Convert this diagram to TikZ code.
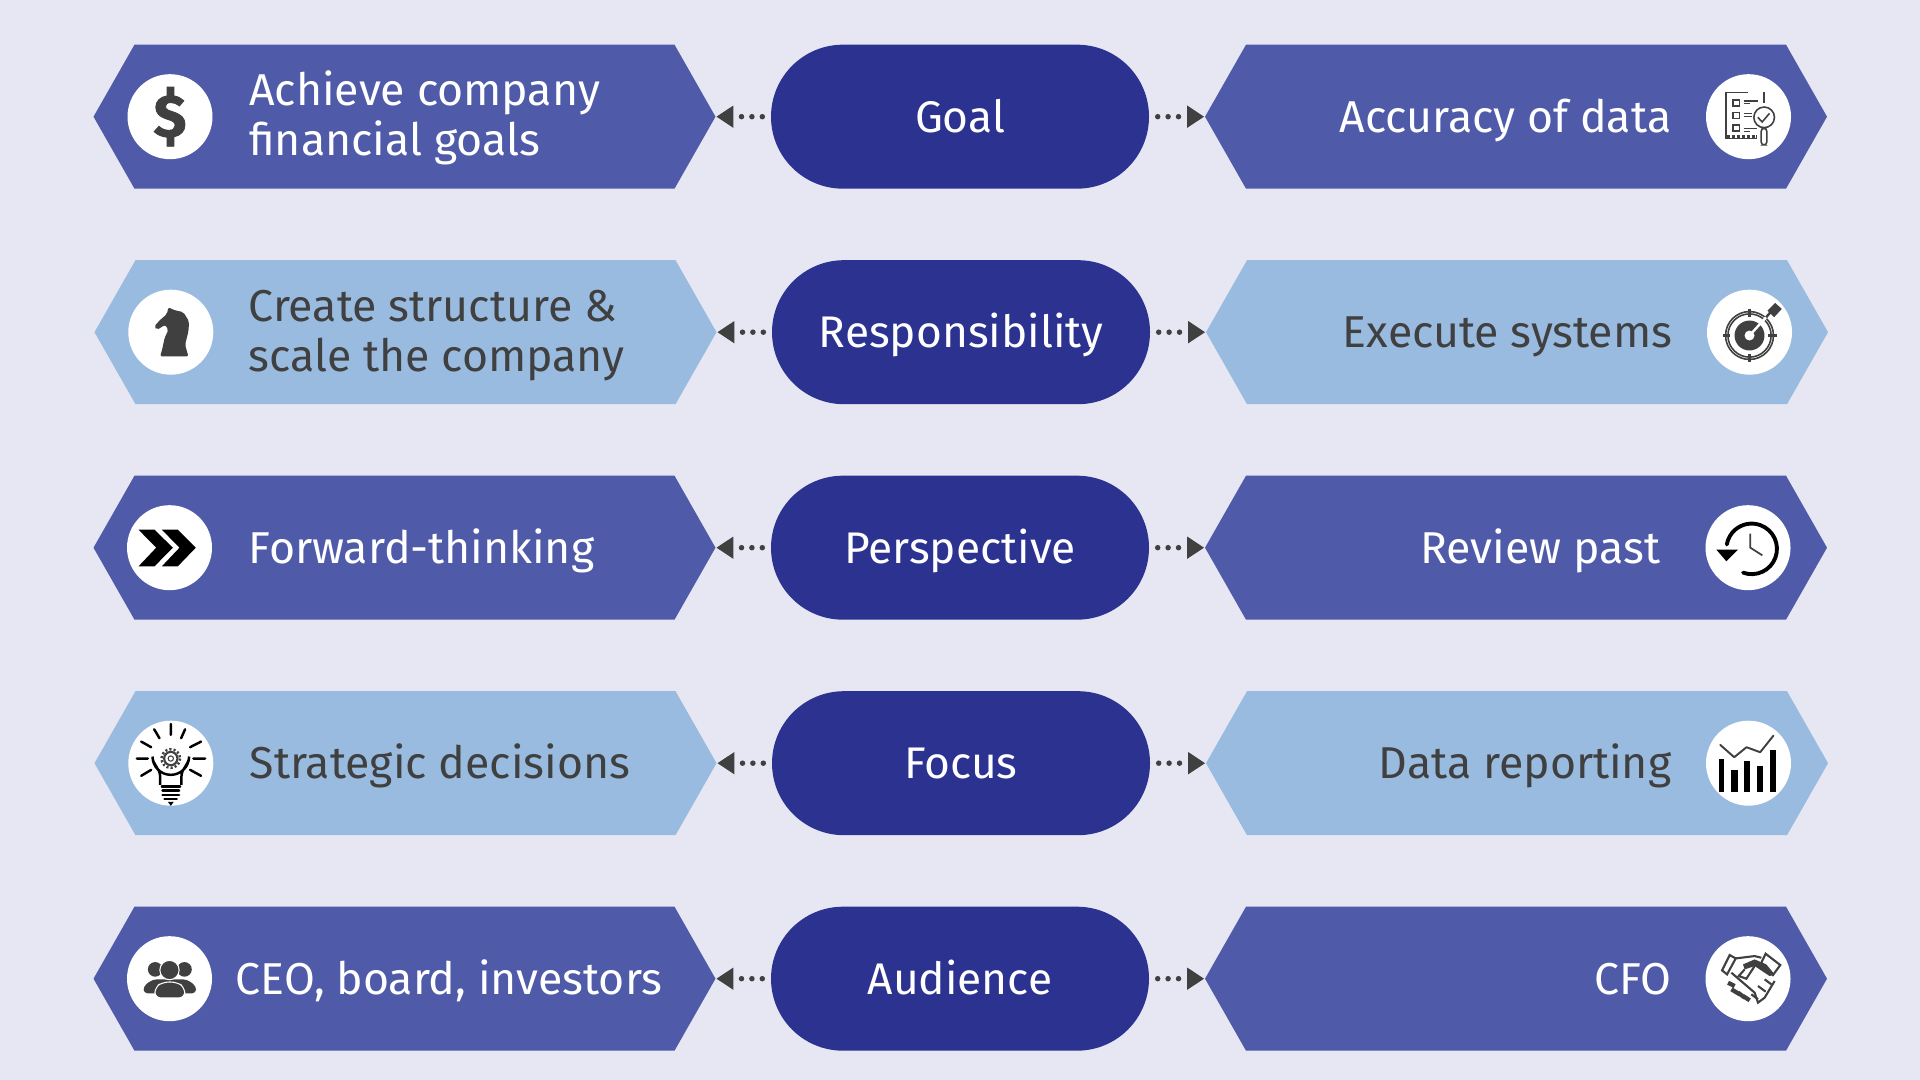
\documentclass[tikz,border=0pt]{standalone}
\usepackage{xcolor}
\usepackage{fontspec}
\setmainfont{Fira Sans}
\usetikzlibrary{shapes,arrows.meta}

\definecolor{bgcol}{HTML}{E6E7F2}
\definecolor{hexdarkcol}{HTML}{4F5BA9}
\definecolor{hexlightcol}{HTML}{99BBE0}
\definecolor{pillcol}{HTML}{2C3290}
\definecolor{inkcol}{HTML}{404040}

\tikzset{
    hexbase/.style={signal, signal to=west and east, signal pointer angle=120.7, draw=none, inner sep=0pt, minimum width=6.22cm, minimum height=1.44cm},
    hexdark/.style={hexbase, fill=hexdarkcol},
    hexlight/.style={hexbase, fill=hexlightcol},
    pill/.style={rectangle, rounded corners=0.72cm, fill=pillcol, text=white, inner sep=0pt, minimum width=3.78cm, minimum height=1.44cm, text height=0.31cm, text depth=0pt, font=\fontsize{12.6}{14}\selectfont},
    iconcirc/.style={circle, fill=white, inner sep=0pt, minimum size=0.85cm},
    txtwhite/.style={text=white, inner sep=0pt, align=left, font=\fontsize{12.7}{14.2}\selectfont},
    txtdark/.style={text=inkcol, inner sep=0pt, align=left, font=\fontsize{12.7}{14.2}\selectfont},
    oneline/.style={text height=0.31cm, text depth=0pt},
    linkarrow/.style={draw=inkcol, line width=0.055cm, line cap=round, dash pattern=on 0pt off 0.104cm, shorten <=0.08cm, -{Triangle[length=0.17cm,width=0.21cm]}},
    iconscope/.style={shift={(#1)}, scale=0.00333, yscale=-1},
    iconline/.style={draw=inkcol, line width=0.45pt, fill=none},
    iconthick/.style={draw=black, line width=0.7pt, line cap=round, fill=none}
}

\begin{document}
\begin{tikzpicture}
    \fill[bgcol] (0,0) rectangle (19.2,10.8);
    \useasboundingbox (0,0) rectangle (19.2,10.8);

    % Goal
    \node[pill] (goal) at (9.6,9.633) {Goal};
    \node[hexdark] (goalL) at (4.045,9.633) {};
    \node[hexdark] (goalR) at (15.16,9.633) {};
    \draw[linkarrow] (goal.west) -- (goalL.east);
    \draw[linkarrow] (goal.east) -- (goalR.west);
    \node[iconcirc] (dollarcirc) at (1.70,9.633) {};
    \node[iconcirc] (checkcirc) at (17.485,9.633) {};
    \node[txtwhite, anchor=west] (goalLtext) at (2.486,9.62) {Achieve company\\financial goals};
    \node[txtwhite, oneline, anchor=east] (goalRtext) at (16.72,9.633) {Accuracy of data};

    % Responsibility
    \node[pill] (resp) at (9.61,7.478) {Responsibility};
    \node[hexlight] (respL) at (4.055,7.478) {};
    \node[hexlight] (respR) at (15.17,7.478) {};
    \draw[linkarrow] (resp.west) -- (respL.east);
    \draw[linkarrow] (resp.east) -- (respR.west);
    \node[iconcirc] (knightcirc) at (1.708,7.478) {};
    \node[iconcirc] (targetcirc) at (17.495,7.478) {};
    \node[txtdark, anchor=west] (respLtext) at (2.48,7.44) {Create structure \&\\scale the company};
    \node[txtdark, oneline, anchor=east] (respRtext) at (16.73,7.478) {Execute systems};

    % Perspective
    \node[pill] (persp) at (9.6,5.323) {Perspective};
    \node[hexdark] (perspL) at (4.045,5.323) {};
    \node[hexdark] (perspR) at (15.16,5.323) {};
    \draw[linkarrow] (persp.west) -- (perspL.east);
    \draw[linkarrow] (persp.east) -- (perspR.west);
    \node[iconcirc] (fwdcirc) at (1.695,5.323) {};
    \node[iconcirc] (clockcirc) at (17.48,5.323) {};
    \node[txtwhite, oneline, anchor=west] (perspLtext) at (2.48,5.323) {Forward-thinking};
    \node[txtwhite, oneline, anchor=east] (perspRtext) at (16.61,5.323) {Review past};

    % Focus
    \node[pill] (focus) at (9.61,3.168) {Focus};
    \node[hexlight] (focusL) at (4.055,3.168) {};
    \node[hexlight] (focusR) at (15.17,3.168) {};
    \draw[linkarrow] (focus.west) -- (focusL.east);
    \draw[linkarrow] (focus.east) -- (focusR.west);
    \node[iconcirc] (bulbcirc) at (1.708,3.168) {};
    \node[iconcirc] (chartcirc) at (17.485,3.168) {};
    \node[txtdark, oneline, anchor=west] (focusLtext) at (2.49,3.168) {Strategic decisions};
    \node[txtdark, oneline, anchor=east] (focusRtext) at (16.72,3.168) {Data reporting};

    % Audience
    \node[pill] (aud) at (9.6,1.013) {Audience};
    \node[hexdark] (audL) at (4.045,1.013) {};
    \node[hexdark] (audR) at (15.16,1.013) {};
    \draw[linkarrow] (aud.west) -- (audL.east);
    \draw[linkarrow] (aud.east) -- (audR.west);
    \node[iconcirc] (groupcirc) at (1.695,1.013) {};
    \node[iconcirc] (shakecirc) at (17.48,1.013) {};
    \node[txtwhite, oneline, anchor=west] (audLtext) at (2.35,1.013) {CEO, board, investors};
    \node[txtwhite, oneline, anchor=east] (audRtext) at (16.72,1.013) {CFO};

    % icons, in pixels of the 3x crop around the circle centre
    \node[text=inkcol, inner sep=0pt, font=\fontsize{17}{17}\selectfont\bfseries\addfontfeature{FakeBold=1.5}] (dollar) at (dollarcirc) {\$};

    \begin{scope}[iconscope=checkcirc]
        \draw[iconline] (-2,-73) -- (-67,-73) -- (-67,65) -- (25,65);
        \draw[iconline] (47,-73) -- (47,-40);
        \draw[iconline, line width=0.9pt, dash pattern=on 1pt off 0.4pt] (-65,60) -- (25,60);
        \draw[iconline] (-47,-50) rectangle (-27,-32);
        \draw[iconline] (-47,-12) rectangle (-27,6);
        \draw[iconline] (-47,25) rectangle (-27,43);
        \draw[iconline] (-15,-48) -- (28,-48) (-15,-40) -- (5,-40);
        \draw[iconline] (-15,-10) -- (10,-10) (-15,0) -- (10,0);
        \draw[iconline] (-15,35) -- (25,35) (-15,45) -- (3,45);
        \draw[iconline, fill=white] (47,2) circle (31);
        \draw[iconline] (28,2) -- (41,16) -- (63,-10);
        \draw[iconline, fill=white, rounded corners=0.03cm] (38,35) rectangle (55,85);
    \end{scope}

    \begin{scope}[iconscope=targetcirc]
        \draw[iconline] (0,10) circle (65);
        \draw[iconline] (0,10) circle (72);
        \fill[inkcol] (0,10) circle (45);
        \fill[white] (0,10) circle (15);
        \draw[iconline, line width=0.6pt] (0,-70) -- (0,-45) (0,65) -- (0,90) (-80,10) -- (-58,10) (57,10) -- (84,10);
        \draw[white, line width=0.7pt] (0,10) -- (50,-45);
        \draw[inkcol, line width=0.7pt] (50,-45) -- (72,-70);
        \fill[inkcol] (54,-65) -- (77,-88) -- (97,-70) -- (74,-45) -- cycle;
    \end{scope}

    \begin{scope}[iconscope=knightcirc]
        \fill[inkcol, rounded corners=0.02cm] (-32,73) -- (53,73) -- (43,38) -- (53,-2) -- (55,-32) -- (38,-60) -- (8,-67) -- (-7,-75) -- (-12,-54) -- (-32,-37) -- (-50,-17) -- (-42,-7) -- (-17,-22) -- (-7,-7) -- (-19,18) -- (-25,48) -- cycle;
    \end{scope}

    \begin{scope}[iconscope=fwdcirc]
        \fill[black] (-93,-54) -- (-45,-54) -- (10,0) -- (-45,56) -- (-93,56) -- (-40,0) -- cycle;
        \fill[black] (-23,-54) -- (25,-54) -- (79,0) -- (25,56) -- (-23,56) -- (30,0) -- cycle;
    \end{scope}

    \begin{scope}[iconscope=clockcirc]
        \draw[black, line width=1.1pt, line cap=round] (-15,75) arc[start angle=110, end angle=-170, radius=76];
        \fill[black] (-95,6) -- (-30,6) -- (-65,41) -- cycle;
        \draw[inkcol, line width=0.5pt] (7,-42) -- (7,0) -- (43,23);
    \end{scope}

    \begin{scope}[iconscope=bulbcirc]
        \draw[iconthick] (0,-118) -- (0,-85) (-50,-102) -- (-34,-75) (43,-102) -- (31,-75) (-89,-65) -- (-59,-48) (91,-65) -- (58,-48);
        \draw[iconthick] (-102,-14) -- (-69,-14) (103,-14) -- (68,-14) (-89,38) -- (-59,20) (91,38) -- (58,20);
        \draw[iconthick, line cap=butt] (-32,65) -- (-32,40) .. controls (-32,15) and (-55,5) .. (-55,-20) arc[start angle=180, end angle=0, radius=55] .. controls (55,5) and (32,15) .. (32,40) -- (32,65);
        \draw[iconthick] (-27,70) -- (28,70) (-25,82) -- (25,82) (-25,95) -- (25,95) (-19,108) -- (18,108);
        \fill[black] (-9,116) -- (9,116) -- (0,128) -- cycle;
        \draw[inkcol, line width=0.6pt] (0,-14) circle (20);
        \draw[inkcol, line width=0.7pt, dash pattern=on 0.6pt off 0.6pt] (0,-14) circle (28);
        \draw[inkcol, line width=0.3pt] (0,-14) circle (8);
    \end{scope}

    \begin{scope}[iconscope=chartcirc]
        \fill[black] (-90,-13) rectangle (-73,87);
        \fill[black] (-53,20) rectangle (-33,87);
        \fill[black] (-15,-8) rectangle (5,87);
        \fill[black] (24,7) rectangle (44,87);
        \fill[black] (65,-40) rectangle (84,87);
        \draw[inkcol, line width=0.55pt, line cap=round, line join=round] (-85,-55) -- (-43,-18) -- (-6,-48) -- (35,-33) -- (75,-83);
    \end{scope}

    \begin{scope}[iconscope=groupcirc]
        \fill[inkcol] (-43,-28) circle (22);
        \fill[inkcol] (45,-28) circle (22);
        \fill[inkcol, rounded corners=0.04cm] (-78,44) -- (-78,22) -- (-50,2) -- (52,2) -- (80,22) -- (80,44) -- cycle;
        \draw[white, line width=0.3pt, fill=inkcol] (0,-26) circle (29);
        \draw[white, line width=0.3pt, fill=inkcol, rounded corners=0.06cm] (-44,58) -- (-44,26) -- (-20,10) -- (22,10) -- (46,26) -- (46,58) -- cycle;
    \end{scope}

    \begin{scope}[iconscope=shakecirc]
        \draw[iconline, line width=0.6pt] (-55,-71) -- (-37,-61) -- (-63,-13) -- (-78,-25) -- cycle;
        \draw[iconline, line width=0.6pt] (53,-75) -- (97,-41) -- (75,-11) -- (40,-48) -- cycle;
        \draw[iconline, line width=0.6pt] (-37,-61) -- (20,-68) -- (40,-63);
        \fill[inkcol] (-15,-43) -- (20,-58) -- (55,-43) -- (80,-13) -- (65,-8) -- (20,-38) -- (-10,-28) -- cycle;
        \draw[iconline, line width=0.6pt] (-50,-18) -- (20,42) -- (30,72) -- (50,57) -- (80,7);
        \draw[iconline, line width=0.6pt] (-10,-28) -- (-28,-8) -- (-5,0) -- (20,-38);
        \draw[inkcol, line width=1.2pt] (-60,12) -- (-40,22) (-50,32) -- (-25,47) (-30,42) -- (-10,57) (-15,52) -- (5,65);
        \draw[iconline, line width=0.6pt] (10,47) -- (30,62) (30,22) -- (53,39) (50,2) -- (70,17);
    \end{scope}
\end{tikzpicture}
\end{document}
